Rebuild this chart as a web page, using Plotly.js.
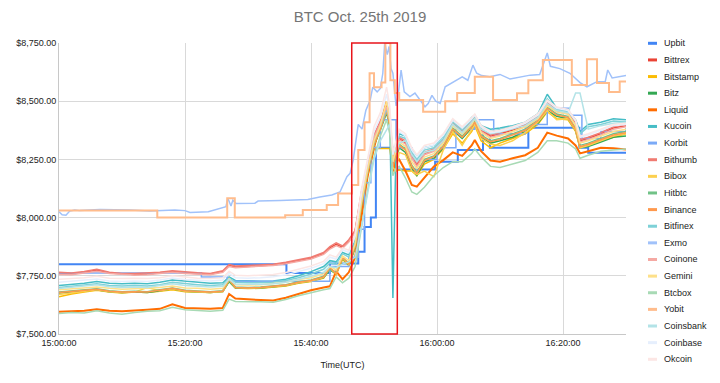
<!DOCTYPE html>
<html><head><meta charset="utf-8">
<script src="https://cdn.plot.ly/plotly-3.0.1.min.js"></script>
<style>html,body{margin:0;padding:0;background:#fff}#chart{width:720px;height:383px}</style>
</head><body><div id="chart"></div>
<script>
const DAY = "2019-10-25 ";
const TITLE = "BTC Oct. 25th 2019";
const X_TITLE = "Time(UTC)";
const X_RANGE = ["15:00:00", "16:30:00"];
const Y_RANGE = [7500, 8750];
const HIGHLIGHT = ["15:46:28", "15:53:42"];

const NAMES = ["Upbit","Bittrex","Bitstamp","Bitz","Liquid","Kucoin","Korbit","Bithumb","Bibox","Hitbtc","Binance","Bitfinex","Exmo","Coinone","Gemini","Btcbox","Yobit","Coinsbank","Coinbase","Okcoin"];

// shared time grid
const TIMES = ["15:00:00","15:02:00","15:04:00","15:06:00","15:08:00","15:10:00","15:12:00","15:14:00","15:16:00","15:18:00",
"15:20:00","15:22:00","15:24:00","15:26:00","15:27:00","15:28:00","15:30:00","15:32:00","15:34:00","15:36:00",
"15:38:00","15:40:00","15:42:00","15:43:00","15:44:00","15:45:00","15:46:00","15:47:00","15:48:00","15:49:00",
"15:50:00","15:51:00","15:52:00","15:52:30","15:53:00","15:53:30","15:54:00","15:55:00","15:56:00","15:56:48",
"15:58:00","15:59:30","16:01:00","16:02:30","16:04:00","16:05:30","16:06:00","16:07:00","16:08:30","16:10:00",
"16:12:00","16:14:00","16:16:00","16:17:30","16:19:00","16:20:48","16:22:00","16:22:42","16:24:00","16:26:00",
"16:28:00","16:30:00"];

const BITTREX = [7760,7758,7765,7775,7762,7758,7756,7758,7762,7768, 7762,7760,7758,7768,7795,7788,7790,7792,7796,7805, 7815,7825,7845,7870,7885,7872,7900,7940,8100,8230, 8350,8410,8480,8430,8250,8300,8340,8320,8260,8225, 8275,8290,8330,8405,8370,8410,8430,8375,8350,8360, 8375,8395,8430,8490,8460,8450,8405,8330,8340,8360, 8385,8395];
const BITSTAMP = [7660,7672,7680,7688,7680,7676,7680,7678,7684,7690, 7682,7680,7678,7682,7728,7698,7695,7697,7700,7706, 7718,7726,7740,7780,7755,7820,7795,7870,8040,8180, 8297,8297,8297,8297,8200,8200,8205,8200,8200,8180, 8230,8250,8295,8360,8320,8370,8395,8330,8300,8320, 8340,8360,8400,8455,8425,8420,8370,8300,8310,8330, 8345,8360];
const BITZ = [7676,7680,7686,7690,7682,7678,7680,7678,7686,7694, 7684,7682,7678,7682,7725,7698,7696,7698,7702,7708, 7720,7728,7742,7775,7758,7825,7795,7870,8050,8190, 8310,8375,8450,8390,8210,8260,8300,8280,8210,8180, 8240,8255,8300,8375,8340,8385,8405,8345,8320,8330, 8345,8370,8405,8460,8435,8425,8375,8300,8305,8325, 8345,8350];
const LIQUID = [7596,7598,7600,7606,7600,7598,7600,7604,7608,7628, 7612,7610,7608,7612,7672,7652,7648,7646,7644,7656, 7672,7688,7700,7705,7770,7735,7765,7830,8000,8180, 8300,8400,8500,8420,8200,8240,8250,8200,8140,8133, 8170,8219,8247,8280,8265,8310,8333,8285,8245,8240, 8255,8268,8300,8365,8352,8340,8310,8276,8285,8300, 8298,8292];
const KUCOIN = [7708,7712,7718,7725,7718,7716,7718,7716,7722,7732, 7728,7722,7718,7720,7745,7730,7728,7727,7728,7735, 7750,7768,7790,7815,7810,7850,7840,7900,8080,8220, 8340,8400,8470,8440,7655,8300,8360,8350,8290,8260, 8300,8310,8350,8420,8380,8430,8440,8395,8380,8385, 8395,8410,8445,8530,8470,8460,8420,8370,8400,8410, 8425,8420];
const BITHUMB = [7765,7762,7768,7778,7765,7760,7760,7762,7765,7772, 7766,7763,7760,7772,7798,7792,7794,7796,7800,7808, 7818,7830,7850,7875,7892,7878,7905,7945,8110,8240, 8355,8415,8490,8440,8260,8310,8345,8330,8270,8235, 8280,8295,8335,8410,8375,8415,8435,8380,8355,8365, 8380,8400,8435,8495,8465,8455,8410,8335,8345,8365, 8390,8400];
const BIBOX = [7670,7676,7684,7690,7682,7678,7680,7700,7686,7694, 7684,7682,7678,7682,7730,7700,7696,7699,7703,7708, 7720,7728,7743,7782,7758,7826,7798,7878,8055,8195, 8315,8380,8470,8395,8215,8200,8280,8270,8200,8185, 8200,8176,8290,8370,8310,8380,8400,8340,8315,8310, 8330,8365,8410,8460,8420,8425,8375,8300,8310,8330, 8350,8360];
const HITBTC = [7680,7684,7690,7694,7686,7682,7684,7682,7690,7698, 7688,7686,7682,7686,7732,7702,7700,7702,7706,7712, 7724,7732,7748,7780,7765,7828,7805,7875,8055,8195, 8315,8385,8455,8405,8230,8275,8315,8295,8225,8195, 8250,8265,8310,8385,8350,8395,8415,8355,8330,8340, 8360,8380,8420,8475,8445,8435,8385,8310,8320,8340, 8360,8370];
const BINANCE = [7678,7682,7688,7692,7684,7680,7682,7680,7688,7696, 7686,7684,7680,7684,7735,7700,7698,7700,7704,7710, 7722,7730,7745,7785,7760,7830,7800,7880,8060,8200, 8320,8380,8460,8400,8220,8270,8310,8290,8220,8190, 8245,8262,8305,8380,8345,8390,8410,8350,8326,8335, 8355,8375,8415,8470,8440,8430,8380,8305,8315,8335, 8355,8365];
const BITFINEX = [7700,7704,7710,7716,7708,7706,7708,7706,7712,7722, 7716,7712,7708,7712,7740,7722,7720,7720,7722,7730, 7742,7758,7778,7805,7800,7845,7830,7895,8070,8210, 8330,8395,8465,8420,8240,8295,8350,8340,8280,8250, 8290,8300,8340,8410,8375,8420,8435,8390,8370,8378, 8390,8405,8440,8510,8465,8455,8415,8360,8390,8400, 8415,8412];
const COINONE = [7756,7755,7762,7770,7760,7755,7753,7755,7760,7765, 7760,7758,7755,7765,7790,7785,7787,7790,7794,7802, 7812,7822,7842,7865,7880,7868,7895,7935,8095,8225, 8345,8405,8475,8425,8245,8295,8335,8315,8255,8220, 8270,8285,8325,8400,8365,8405,8425,8370,8345,8355, 8370,8390,8425,8485,8455,8445,8400,8325,8335,8355, 8380,8390];
const GEMINI = [7690,7694,7698,7702,7696,7692,7694,7696,7700,7706, 7698,7696,7692,7696,7738,7712,7710,7712,7716,7722, 7734,7742,7758,7790,7775,7835,7815,7885,8065,8210, 8330,8395,8500,8420,8240,8290,8325,8305,8240,8210, 8260,8275,8320,8395,8360,8400,8425,8365,8340,8350, 8370,8390,8425,8480,8455,8445,8395,8320,8330,8350, 8370,8380];
const BTCBOX = [7588,7592,7590,7600,7590,7585,7592,7598,7600,7615, 7604,7600,7598,7602,7650,7640,7640,7638,7636,7648, 7664,7678,7690,7695,7745,7720,7740,7790,7950,8120, 8260,8350,8420,8360,8180,8210,8220,8170,8110,8100, 8130,8180,8215,8240,8240,8275,8295,8260,8220,8215, 8230,8245,8280,8330,8330,8320,8295,8255,8268,8285, 8290,8295];
const COINSBANK = [7695,7700,7705,7712,7703,7700,7702,7700,7708,7716, 7708,7705,7702,7705,7735,7715,7713,7714,7716,7722, 7735,7748,7765,7790,7785,7800,7810,7830,7960,8100, 8250,8330,8380,8400,8300,8280,8320,8330,8270,8240, 8280,8290,8330,8400,8365,8410,8425,8380,8360,8368, 8380,8395,8430,8490,8460,8450,8535,8535,8380,8395, 8405,8410];
const COINBASE = [7722,7726,7730,7736,7728,7726,7728,7726,7732,7740, 7734,7730,7728,7732,7760,7742,7740,7742,7746,7754, 7768,7782,7802,7830,7822,7862,7850,7920,8100,8245, 8370,8430,8530,8460,8270,8320,8370,8350,8290,8260, 8300,8312,8352,8418,8384,8424,8440,8390,8365,8370, 8385,8405,8440,8500,8470,8460,8415,8345,8355,8375, 8395,8400];
const OKCOIN = [7735,7738,7742,7748,7740,7738,7740,7738,7742,7750, 7744,7740,7738,7742,7770,7752,7750,7752,7756,7764, 7778,7792,7812,7840,7830,7870,7860,7930,8120,8260, 8390,8450,8560,8480,8280,8330,8380,8360,8300,8270, 8310,8320,8360,8425,8390,8430,8445,8395,8370,8375, 8390,8410,8445,8505,8475,8465,8420,8350,8360,8380, 8400,8405];

// step-like series with their own times
const UPBIT_T = ["15:00:00","15:36:06","15:43:00","15:47:30","15:48:30","15:49:30","15:50:18","15:53:24","15:59:42","16:03:18","16:07:18","16:08:24","16:14:30","16:22:36","16:24:00","16:30:00"];
const UPBIT = [7800,7762,7803,7853,7960,8000,8300,8207,8240,8290,8360,8300,8386,8300,8279,8279];
const KORBIT_T = ["15:00:00","15:22:36","15:26:42","15:43:00","15:46:00","15:47:30","15:48:30","15:49:30","15:51:00","15:53:30","15:56:00","16:00:00","16:03:00","16:06:00","16:09:00","16:14:00","16:17:30","16:21:00","16:23:00","16:26:00","16:30:00"];
const KORBIT = [7762,7745,7727,7790,7830,7950,8150,8300,8420,8300,8250,8300,8380,8420,8360,8400,8470,8440,8340,8370,8385];
const YOBIT_T = ["15:00:00","15:15:36","15:26:42","15:27:54","15:35:54","15:38:42","15:42:30","15:44:18","15:46:30","15:47:30","15:48:30","15:49:18","15:50:00","15:51:12","15:51:48","15:52:36","15:53:18","15:54:00","15:57:48","16:01:18","16:03:12","16:06:00","16:08:54","16:12:42","16:14:30","16:16:48","16:21:24","16:23:48","16:25:24","16:27:18","16:29:00","16:30:00"];
const YOBIT = [8030,8000,8083,8000,8010,8033,8054,8104,8140,8290,8410,8620,8560,8580,8750,8590,8535,8505,8455,8500,8535,8605,8505,8534,8590,8677,8570,8680,8578,8540,8585,8585];
const EXMO_T = ["15:00:00","15:00:30","15:01:06","15:01:42","15:02:30","15:03:18","15:06:30","15:11:18","15:14:24","15:18:24","15:20:00","15:20:48","15:23:42","15:25:36","15:26:30","15:26:48","15:27:18","15:27:36","15:28:06","15:31:06","15:31:36","15:35:06","15:39:30","15:41:24","15:43:18","15:44:36","15:45:42","15:46:12","15:46:42","15:47:30","15:48:06","15:48:42","15:49:24","15:49:48","15:50:30","15:51:00","15:51:24","15:51:42","15:52:06","15:52:24","15:52:42","15:53:00","15:53:30","15:53:48","15:54:18","15:54:48","15:55:42","15:56:30","15:57:18","15:58:06","15:58:36","15:59:12","15:59:48","16:00:30","16:01:18","16:02:06","16:02:54","16:04:00","16:04:54","16:05:42","16:06:18","16:07:06","16:08:24","16:10:00","16:11:36","16:13:12","16:14:48","16:16:18","16:17:30","16:18:00","16:19:30","16:21:06","16:22:42","16:23:48","16:25:24","16:26:42","16:27:06","16:27:48","16:29:00","16:30:00"];
const EXMO = [8025,8012,8010,8028,8033,8030,8035,8033,8028,8033,8030,8022,8025,8038,8047,8083,8050,8075,8061,8062,8071,8073,8078,8088,8097,8110,8176,8190,8247,8400,8380,8460,8505,8560,8540,8555,8620,8750,8700,8735,8640,8620,8480,8519,8634,8540,8520,8535,8505,8476,8490,8525,8500,8490,8562,8575,8590,8605,8590,8655,8620,8610,8605,8615,8595,8605,8612,8615,8707,8650,8640,8620,8580,8562,8584,8584,8634,8600,8605,8610];

const DATA = {
  Upbit:[UPBIT_T,UPBIT], Bittrex:[TIMES,BITTREX], Bitstamp:[TIMES,BITSTAMP], Bitz:[TIMES,BITZ],
  Liquid:[TIMES,LIQUID], Kucoin:[TIMES,KUCOIN], Korbit:[KORBIT_T,KORBIT], Bithumb:[TIMES,BITHUMB],
  Bibox:[TIMES,BIBOX], Hitbtc:[TIMES,HITBTC], Binance:[TIMES,BINANCE], Bitfinex:[TIMES,BITFINEX],
  Exmo:[EXMO_T,EXMO], Coinone:[TIMES,COINONE], Gemini:[TIMES,GEMINI], Btcbox:[TIMES,BTCBOX],
  Yobit:[YOBIT_T,YOBIT], Coinsbank:[TIMES,COINSBANK], Coinbase:[TIMES,COINBASE], Okcoin:[TIMES,OKCOIN]
};

const STYLE = {
  Upbit:{c:"#4285F4",w:2,s:"hv"}, Bittrex:{c:"#EA4335",w:1.5}, Bitstamp:{c:"#FBBC04",w:1.5}, Bitz:{c:"#34A853",w:1.5},
  Liquid:{c:"#FF6D01",w:2}, Kucoin:{c:"#46BDC6",w:1.5}, Korbit:{c:"#7BAAF7",w:1.5,s:"hv"}, Bithumb:{c:"#F07B72",w:1.5},
  Bibox:{c:"#FCD04F",w:1.5}, Hitbtc:{c:"#71C287",w:1.5}, Binance:{c:"#FF994D",w:1.5}, Bitfinex:{c:"#7ED1D7",w:1.5},
  Exmo:{c:"#A1C2FA",w:1.5}, Coinone:{c:"#F5A9A3",w:1.5}, Gemini:{c:"#FDE08A",w:1.5}, Btcbox:{c:"#A8DAB5",w:1.5},
  Yobit:{c:"#FFBC8C",w:2,s:"hv"}, Coinsbank:{c:"#B3E3E7",w:1.5}, Coinbase:{c:"#E6EFFD",w:1.5}, Okcoin:{c:"#FCE6E4",w:1.5}
};

const FONT = "Liberation Sans, Arial, sans-serif";
const traces = NAMES.map(n => ({
  type: "scatter", mode: "lines", name: n,
  x: DATA[n][0].map(t => DAY + t), y: DATA[n][1],
  line: {color: STYLE[n].c, width: STYLE[n].w, shape: STYLE[n].s || "linear"},
  hoverinfo: "skip"
}));

const W = 720, H = 383, M = {l:59, r:94, t:43, b:49};
const PW = W - M.l - M.r, PH = H - M.t - M.b;
const shapes = [{
  type: "rect", xref: "x", yref: "paper", x0: DAY + HIGHLIGHT[0], x1: DAY + HIGHLIGHT[1], y0: 0, y1: 1,
  line: {color: "#E8151B", width: 1.5}, fillcolor: "rgba(0,0,0,0)", layer: "above"
}];
const annotations = [];
NAMES.forEach((n, i) => {
  const py = 43.3 + 16.63 * i;
  const yp = 1 - (py - M.t) / PH;
  shapes.push({type: "line", xref: "paper", yref: "paper", x0: (648 - M.l) / PW, x1: (657 - M.l) / PW, y0: yp, y1: yp,
    line: {color: STYLE[n].c, width: 3}});
  annotations.push({xref: "paper", yref: "paper", x: (662 - M.l) / PW, y: yp, text: n, showarrow: false,
    xanchor: "left", yanchor: "middle", font: {family: FONT, size: 9, color: "#222"}});
});

const layout = {
  width: W, height: H, margin: M, paper_bgcolor: "#fff", plot_bgcolor: "#fff",
  font: {family: FONT, size: 9, color: "#222"},
  showlegend: false,
  title: {text: TITLE, font: {family: FONT, size: 15, color: "#757575"}, x: 0.5, xref: "container", xanchor: "center",
    y: 1 - 17 / H, yref: "container", yanchor: "middle"},
  xaxis: {type: "date", range: [DAY + X_RANGE[0], DAY + X_RANGE[1]], tick0: DAY + X_RANGE[0], dtick: 20 * 60 * 1000,
    tickformat: "%H:%M:%S", showgrid: true, gridcolor: "#d9d9d9", gridwidth: 1, zeroline: false,
    showline: true, linecolor: "#c8c8c8", linewidth: 1, ticks: "", automargin: false,
    tickfont: {family: FONT, size: 9, color: "#222"},
    title: {text: X_TITLE, font: {family: FONT, size: 9, color: "#222"}, standoff: 14}},
  yaxis: {range: Y_RANGE, dtick: 250, tick0: 7500, tickformat: "$,.2f", showgrid: true, gridcolor: "#d9d9d9",
    gridwidth: 1, zeroline: false, showline: true, linecolor: "#c8c8c8", ticks: "", automargin: false,
    tickfont: {family: FONT, size: 9, color: "#222"}},
  shapes: shapes, annotations: annotations
};
Plotly.newPlot("chart", traces, layout, {staticPlot: true, displayModeBar: false});
</script>
</body></html>
